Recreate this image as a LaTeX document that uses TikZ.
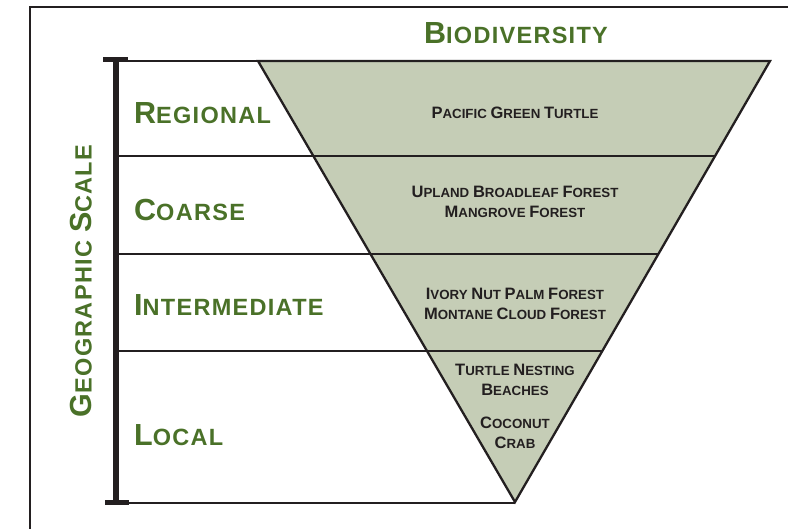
\documentclass[tikz,border=0pt]{standalone}
\usepackage{fontspec}
\setmainfont{Liberation Sans}
\usetikzlibrary{positioning, calc}
\definecolor{scalegreen}{HTML}{4A7128}
\definecolor{biofill}{HTML}{C5CDB6}
\definecolor{inkblack}{HTML}{231F20}
% large caps + small caps, green headings
\newcommand{\headsc}[2]{{\fontsize{30.5}{32}\selectfont #1}{\fontsize{23.5}{25}\selectfont\MakeUppercase{#2}}}
% large caps + small caps, black entries
\newcommand{\entrysc}[2]{{\fontsize{16.5}{18}\selectfont #1}{\fontsize{13.3}{15}\selectfont\MakeUppercase{#2}}}
\tikzset{
  heading/.style={inner sep=0pt, text=scalegreen, font=\bfseries\addfontfeature{LetterSpace=5.5}\fontsize{23.5}{25}\selectfont},
  scalelabel/.style={heading, anchor=west},
  entry/.style={inner sep=0pt, text=inkblack, align=center, font=\bfseries\fontsize{13.3}{20}\selectfont},
  band/.style={draw=inkblack, line width=1.6pt},
}

\begin{document}
\begin{tikzpicture}[x=1pt,y=-1pt]
\clip (0,0) rectangle (788,529);
\useasboundingbox (0,0) rectangle (788,529);
% Frame
\draw[inkblack, line width=1.8pt] (30,540) -- (30,7) -- (800,7);
% Triangle corners
\coordinate (tl) at (258,61);
\coordinate (tr) at (770,61);
\coordinate (apex) at (515,502);
\fill[biofill] (tl) -- (tr) -- (apex) -- cycle;
% Scale bands
\coordinate (top) at (116,61);
\coordinate (bottom) at (116,503);
\draw[band] (top) -- (tr);
\foreach \lev/\name in {156/b1,254/b2,351/b3}{
  \coordinate (\name r) at ($(tr)!{(\lev-61)/441}!(apex)$);
  \draw[band] (116,\lev) -- (\name r);
}
\draw[band] (bottom) -- (apex |- bottom);
\draw[inkblack, line width=2.3pt, line join=miter] (tl) -- (tr) -- (apex) -- cycle;
% Scale bar
\draw[inkblack, line width=6pt] (116,58) -- (bottom);
\draw[inkblack, line width=5pt] (103,60) -- (128,60);
\draw[inkblack, line width=5pt] (105,503) -- (129,503);
% Headings
\node[heading] (bio) at (516,33.5) {\headsc{B}{iodiversity}};
\node[heading, rotate=90] (geo) at (81,281) {\headsc{G}{eographic} \headsc{S}{cale}};
\node[scalelabel] (regional) at (134,113) {\headsc{R}{egional}};
\node[scalelabel] (coarse) at (134,210) {\headsc{C}{oarse}};
\node[scalelabel] (intermediate) at (134,305) {\headsc{I}{ntermediate}};
\node[scalelabel] (local) at (134,435.5) {\headsc{L}{ocal}};
% Entries
\node[entry] (turtle) at (515,113) {\entrysc{P}{acific} \entrysc{G}{reen} \entrysc{T}{urtle}};
\node[entry] (forest) at (515,202) {\entrysc{U}{pland} \entrysc{B}{roadleaf} \entrysc{F}{orest}\\\entrysc{M}{angrove} \entrysc{F}{orest}};
\node[entry] (palm) at (515,304) {\entrysc{I}{vory} \entrysc{N}{ut} \entrysc{P}{alm} \entrysc{F}{orest}\\\entrysc{M}{ontane} \entrysc{C}{loud} \entrysc{F}{orest}};
\node[entry] (beaches) at (515,379.5) {\entrysc{T}{urtle} \entrysc{N}{esting}\\\entrysc{B}{eaches}};
\node[entry] (crab) at (515,433) {\entrysc{C}{oconut}\\\entrysc{C}{rab}};
\end{tikzpicture}
\end{document}
